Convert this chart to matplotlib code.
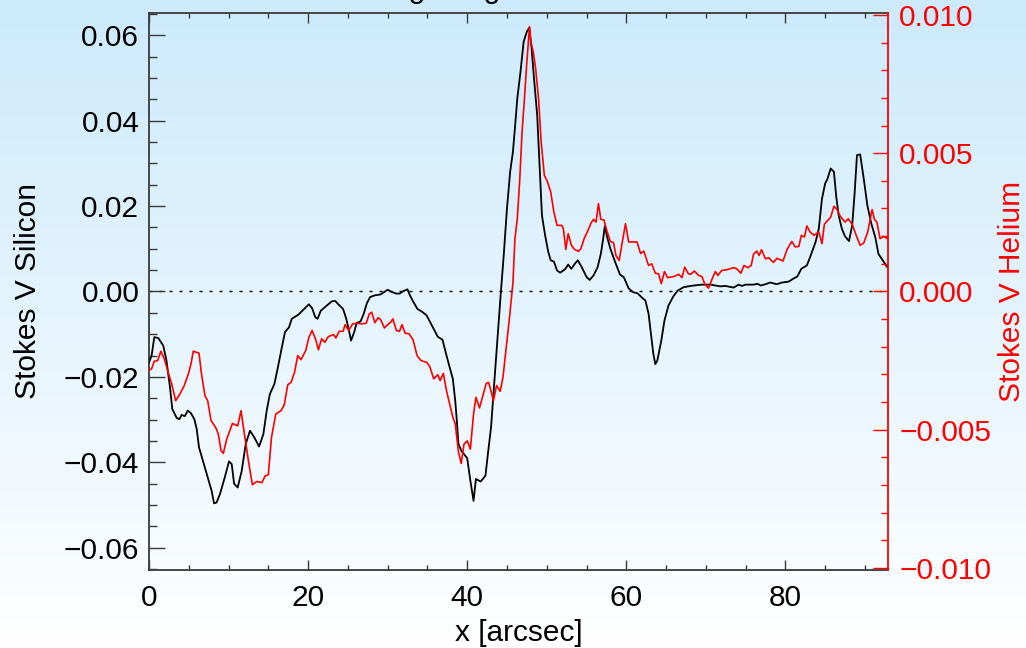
import numpy as np
import matplotlib
matplotlib.use("Agg")
import matplotlib.pyplot as plt
from matplotlib.ticker import MultipleLocator, FuncFormatter

plt.rcParams['font.family'] = ['Liberation Sans', 'DejaVu Sans']

# --- Stokes V, Silicon line (left axis) ---
x_si = [0.0, 0.33, 0.67, 1.17, 1.8, 2.2, 2.64, 2.93, 3.48, 3.82, 4.1, 4.5, 4.87, 5.28, 5.7,
        6.0, 6.29, 6.84, 7.46, 7.88, 8.18, 8.5, 8.93, 9.47, 10.06, 10.4, 10.7, 11.15, 11.66,
        12.16, 12.7, 13.25, 13.84, 14.38, 14.8, 15.2, 15.76, 16.2, 16.7, 17.1, 17.6, 17.95,
        18.8, 19.5, 20.1, 20.5, 20.9, 21.2, 21.6, 22.35, 23.0, 23.4, 23.8, 24.4, 24.8, 25.1,
        25.4, 25.8, 26.1, 26.6, 27.0, 27.4, 27.8, 28.4, 29.1, 29.5, 30.0, 30.5, 31.1, 31.5,
        32.0, 32.5, 32.8, 33.25, 33.75, 34.3, 34.9, 35.3, 35.8, 36.3, 36.9, 37.4, 37.8, 38.2,
        38.5, 38.7, 38.9, 39.3, 40.0, 40.4, 40.8, 41.1, 41.7, 42.3, 42.6, 43.0, 43.3, 43.7,
        44.2, 44.6, 45.0, 45.4, 45.75, 46.0, 46.3, 46.7, 47.1, 47.5, 47.8, 48.1, 48.4, 48.8,
        49.1, 49.4, 49.8, 50.2, 50.5, 50.9, 51.3, 51.7, 52.3, 52.7, 53.1, 53.5, 53.9, 54.4,
        55.0, 55.4, 55.9, 56.4, 56.8, 57.1, 57.3, 57.6, 58.0, 58.6, 59.2, 59.7, 60.3, 60.9,
        61.4, 62.0, 62.4, 62.8, 63.1, 63.4, 63.65, 63.9, 64.4, 64.8, 65.3, 65.9, 66.45, 67.2,
        67.8, 68.5, 69.5, 70.6, 71.8, 72.45, 73.5, 74.1, 74.55, 75.0, 76.0, 76.5, 76.9, 77.5,
        78.1, 78.9, 79.6, 80.4, 81.0, 81.5, 82.0, 82.7, 83.1, 83.8, 84.2, 84.6, 85.0, 85.3,
        85.7, 86.1, 86.4, 86.7, 87.1, 87.5, 88.0, 88.4, 88.7, 89.0, 89.4, 89.85, 90.3, 90.8,
        91.3, 91.7, 92.3, 92.8, 93.1]
stokes_v_si = [-0.0166, -0.0150, -0.0107, -0.0109, -0.0127, -0.0162, -0.0224, -0.0275, -0.0296,
               -0.0299, -0.0289, -0.0292, -0.0279, -0.0285, -0.0299, -0.0322, -0.0365, -0.0400,
               -0.0439, -0.0467, -0.0496, -0.0494, -0.0474, -0.0439, -0.0398, -0.0404, -0.0450,
               -0.0459, -0.0420, -0.0357, -0.0326, -0.0342, -0.0363, -0.0334, -0.0279, -0.0240,
               -0.0217, -0.0178, -0.0131, -0.0095, -0.0084, -0.0064, -0.0054, -0.0041, -0.0030,
               -0.0039, -0.0060, -0.0064, -0.0045, -0.0033, -0.0023, -0.0022, -0.0030, -0.0041,
               -0.0064, -0.0088, -0.0115, -0.0095, -0.0074, -0.0070, -0.0052, -0.0027, -0.0013,
               -0.0009, -0.0007, -0.0002, 0.0004, -0.0001, -0.0005, -0.0005, 0.0001, 0.0005,
               -0.0009, -0.0025, -0.0041, -0.0047, -0.0056, -0.0070, -0.0088, -0.0106, -0.0113,
               -0.0150, -0.0178, -0.0205, -0.0256, -0.0303, -0.0357, -0.0374, -0.0390, -0.0443,
               -0.0490, -0.0439, -0.0445, -0.0431, -0.0381, -0.0318, -0.0240, -0.0138, -0.0010,
               0.0086, 0.0194, 0.0280, 0.0327, 0.0382, 0.0452, 0.0514, 0.0585, 0.0608, 0.0617,
               0.0569, 0.0499, 0.0413, 0.0295, 0.0178, 0.0131, 0.0092, 0.0073, 0.0070, 0.0049,
               0.0044, 0.0052, 0.0063, 0.0053, 0.0064, 0.0073, 0.0057, 0.0034, 0.0027, 0.0038,
               0.0057, 0.0088, 0.0124, 0.0153, 0.0127, 0.0100, 0.0069, 0.0040, 0.0033, 0.0007,
               -0.0002, -0.0004, -0.0015, -0.0021, -0.0052, -0.0099, -0.0146, -0.0170, -0.0162,
               -0.0115, -0.0068, -0.0033, -0.0012, 0.0002, 0.0010, 0.0012, 0.0014, 0.0016, 0.0016,
               0.0012, 0.0013, 0.0009, 0.0016, 0.0013, 0.0016, 0.0016, 0.0018, 0.0014, 0.0017,
               0.0021, 0.0017, 0.0021, 0.0023, 0.0030, 0.0035, 0.0053, 0.0061, 0.0080, 0.0116,
               0.0147, 0.0217, 0.0253, 0.0264, 0.0288, 0.0280, 0.0221, 0.0178, 0.0147, 0.0129,
               0.0118, 0.0155, 0.0229, 0.0319, 0.0321, 0.0264, 0.0202, 0.0159, 0.0127, 0.0088,
               0.0071, 0.0057, 0.0056]

# --- Stokes V, Helium line (right axis) ---
x_he = [0.0, 0.33, 0.67, 1.09, 1.5, 1.93, 2.35, 2.85, 3.36, 3.9, 4.44, 4.95, 5.28, 5.57, 6.29,
        6.6, 7.04, 7.38, 7.8, 8.39, 8.72, 9.06, 9.35, 9.77, 10.5, 11.15, 11.57, 12.0, 12.5,
        13.0, 13.55, 14.2, 14.6, 15.0, 15.4, 15.94, 16.6, 17.0, 17.45, 17.86, 18.3, 18.7, 19.1,
        19.7, 20.1, 20.5, 20.97, 21.3, 21.7, 22.1, 22.55, 23.2, 23.5, 23.9, 24.4, 24.65, 25.1,
        25.6, 26.1, 26.75, 27.3, 27.7, 28.0, 28.4, 28.8, 29.1, 29.6, 30.0, 30.4, 30.65, 31.1,
        31.5, 31.8, 32.2, 32.7, 33.2, 33.7, 34.2, 34.9, 35.3, 35.8, 36.3, 36.6, 37.0, 37.4,
        37.8, 38.2, 38.5, 38.9, 39.25, 39.6, 40.0, 40.4, 40.8, 41.1, 41.55, 41.97, 42.4, 42.7,
        43.0, 43.3, 43.7, 44.15, 44.5, 44.9, 45.3, 45.75, 46.0, 46.3, 46.6, 46.9, 47.2, 47.5,
        47.84, 48.0, 48.3, 48.6, 48.97, 49.3, 49.7, 50.1, 50.5, 50.9, 51.3, 51.9, 52.1, 52.4,
        52.7, 53.1, 53.5, 54.0, 54.3, 54.7, 55.1, 55.6, 55.9, 56.2, 56.5, 56.8, 57.2, 57.6,
        58.0, 58.4, 58.7, 59.1, 59.5, 59.9, 60.3, 61.35, 61.8, 62.2, 62.8, 63.2, 63.65, 64.06,
        64.4, 64.8, 65.2, 65.95, 66.6, 67.0, 67.35, 67.8, 68.1, 68.55, 69.1, 69.5, 69.9, 70.35,
        70.8, 71.2, 71.5, 72.0, 72.7, 73.5, 73.9, 74.4, 74.8, 75.3, 75.7, 76.0, 76.4, 76.7,
        77.0, 77.5, 77.9, 78.5, 78.95, 79.7, 80.2, 80.8, 81.25, 81.7, 82.0, 82.4, 82.7, 83.1,
        83.6, 84.2, 84.6, 84.9, 85.7, 86.1, 86.5, 86.9, 87.5, 87.9, 88.4, 88.9, 89.4, 89.85,
        90.35, 90.9, 91.2, 91.5, 91.9, 92.35, 92.8, 93.1]
stokes_v_he = [-0.00284, -0.0028, -0.00252, -0.0025, -0.00216, -0.00244, -0.00286, -0.00334,
               -0.00395, -0.0037, -0.0034, -0.00298, -0.00262, -0.00216, -0.00223, -0.00298,
               -0.00377, -0.00395, -0.00467, -0.00492, -0.00516, -0.00576, -0.00585, -0.00534,
               -0.00477, -0.00486, -0.00431, -0.00516, -0.00612, -0.00699, -0.00687, -0.00691,
               -0.00667, -0.00663, -0.00528, -0.00443, -0.00431, -0.0041, -0.00337, -0.00329,
               -0.00292, -0.00232, -0.00247, -0.00214, -0.00166, -0.00141, -0.00175, -0.00211,
               -0.00171, -0.00184, -0.00163, -0.00156, -0.00168, -0.00144, -0.00144, -0.0012,
               -0.00141, -0.00117, -0.00115, -0.00117, -0.00115, -0.00081, -0.00075, -0.00113,
               -0.00095, -0.00101, -0.00132, -0.0012, -0.00111, -0.00099, -0.00141, -0.00144,
               -0.0012, -0.00151, -0.00153, -0.00175, -0.00232, -0.0025, -0.00256, -0.00272,
               -0.00316, -0.00301, -0.00322, -0.00296, -0.00359, -0.00407, -0.00455, -0.00479,
               -0.00579, -0.00622, -0.00552, -0.0054, -0.0057, -0.00443, -0.00383, -0.00421,
               -0.00377, -0.00332, -0.00329, -0.00361, -0.00395, -0.0034, -0.00361, -0.0031,
               -0.00205, -0.0010, 0.0003, 0.0019, 0.00263, 0.0040, 0.00577, 0.00698, 0.0083,
               0.00958, 0.00903, 0.00867, 0.00807, 0.00698, 0.00541, 0.0042, 0.00396, 0.0036,
               0.00287, 0.00239, 0.00239, 0.00225, 0.00152, 0.00209, 0.00167, 0.00152, 0.00145,
               0.00155, 0.00191, 0.00215, 0.00249, 0.00261, 0.00251, 0.00318, 0.00261, 0.00258,
               0.00215, 0.00181, 0.00176, 0.0013, 0.00112, 0.00179, 0.00245, 0.00179, 0.00179,
               0.00137, 0.00146, 0.00094, 0.0010, 0.00066, 0.00064, 0.00028, 0.00072, 0.0005,
               0.00054, 0.00062, 0.0005, 0.00088, 0.00064, 0.00062, 0.00074, 0.00058, 0.00054,
               0.00025, 0.00012, 0.00046, 0.00072, 0.00058, 0.00076, 0.00079, 0.00086, 0.00082,
               0.00066, 0.00094, 0.00086, 0.00094, 0.00135, 0.00146, 0.0013, 0.00151, 0.00118,
               0.00122, 0.00105, 0.0012, 0.0011, 0.00151, 0.00181, 0.00161, 0.00163, 0.00203,
               0.00197, 0.00237, 0.00215, 0.00203, 0.00215, 0.00173, 0.00243, 0.00269, 0.00308,
               0.00296, 0.00272, 0.00251, 0.00263, 0.00243, 0.00203, 0.00167, 0.00175, 0.00215,
               0.00296, 0.0026, 0.00251, 0.00191, 0.00199, 0.00191, 0.00199]

x_range = (0.0, 92.9)
si_range = (-0.0652, 0.0652)
he_range = (-0.01007, 0.01007)

title = "Magnetogram slice"
x_label = "x [arcsec]"
si_label = "Stokes V Silicon"
he_label = "Stokes V Helium"

FS = 21.5
AX_GREY = '#3a3a3a'
RED = '#ff0000'

fig = plt.figure(figsize=(10.26, 6.48), dpi=100)

# light-blue to white vertical gradient behind everything
bg = fig.add_axes([0, 0, 1, 1], zorder=-10)
grad = np.linspace(0, 1, 256).reshape(-1, 1)
top_rgb = np.array([204, 234, 252]) / 255.0
bot_rgb = np.array([255, 255, 255]) / 255.0
img = top_rgb[None, None, :] * (1 - grad[:, :, None]) + bot_rgb[None, None, :] * grad[:, :, None]
bg.imshow(img, aspect='auto', extent=[0, 1, 0, 1])
bg.set_axis_off()

ax = fig.add_axes([0.1452, 0.1204, 0.7203, 0.8596])
ax.set_facecolor('none')
ax2 = ax.twinx()
ax2.set_facecolor('none')

# zero reference line
ax.axhline(0.0, color='black', lw=1.0, linestyle=(0, (2.2, 5.0)), zorder=1)

ax.plot(x_si, stokes_v_si, color='black', lw=1.3, zorder=3)
ax2.plot(x_he, stokes_v_he, color=RED, lw=1.2, zorder=3)

ax.set_xlim(*x_range)
ax.set_ylim(*si_range)
ax2.set_ylim(*he_range)

minus = lambda s: s.replace('-', '\u2212')
ax.xaxis.set_major_locator(MultipleLocator(20))
ax.xaxis.set_minor_locator(MultipleLocator(5))
ax.yaxis.set_major_locator(MultipleLocator(0.02))
ax.yaxis.set_minor_locator(MultipleLocator(0.005))
ax.yaxis.set_major_formatter(FuncFormatter(lambda v, p: minus('%.2f' % (0.0 if abs(v) < 1e-9 else v))))
ax2.yaxis.set_major_locator(MultipleLocator(0.005))
ax2.yaxis.set_minor_locator(MultipleLocator(0.001))
ax2.yaxis.set_major_formatter(FuncFormatter(lambda v, p: minus('%.3f' % (0.0 if abs(v) < 1e-9 else v))))

ax.tick_params(axis='x', which='both', direction='in', top=True, bottom=True,
               color=AX_GREY, width=1.0, labelsize=FS, pad=10)
ax.tick_params(axis='x', which='major', length=7.5)
ax.tick_params(axis='x', which='minor', length=3.8)
ax.tick_params(axis='y', which='both', direction='in', left=True, right=False,
               color=AX_GREY, width=1.0, labelsize=FS, pad=7)
ax.tick_params(axis='y', which='major', length=11.5)
ax.tick_params(axis='y', which='minor', length=5.6)

ax2.tick_params(axis='y', which='both', direction='in', right=True, left=False,
                color=RED, width=1.0, labelsize=FS, labelcolor=RED, pad=8)
ax2.tick_params(axis='y', which='major', length=11)
ax2.tick_params(axis='y', which='minor', length=5.2)

for side in ('left', 'top', 'bottom'):
    ax.spines[side].set_color(AX_GREY)
    ax.spines[side].set_linewidth(1.3)
ax.spines['right'].set_visible(False)
for side in ('left', 'top', 'bottom'):
    ax2.spines[side].set_visible(False)
ax2.spines['right'].set_color(RED)
ax2.spines['right'].set_linewidth(1.3)

ax.set_xlabel(x_label, fontsize=FS, labelpad=5)
ax.set_ylabel(si_label, fontsize=FS, labelpad=16)
ax2.set_ylabel(he_label, fontsize=FS, color=RED, labelpad=5)

fig.text(0.358, 1.0 + 2 / 648, title, fontsize=FS, ha='left', va='baseline')

fig.savefig('out.png', dpi=100)
